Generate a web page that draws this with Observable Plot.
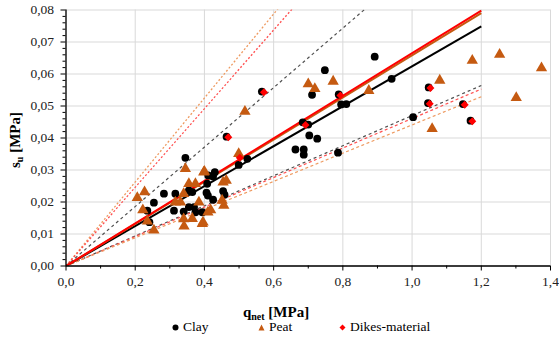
<!DOCTYPE html>
<html>
<head>
<meta charset="utf-8">
<script src="https://cdn.jsdelivr.net/npm/d3@7"></script>
<script src="https://cdn.jsdelivr.net/npm/@observablehq/plot@0.6"></script>
<style>
  html, body { margin: 0; padding: 0; background: #fff; }
  #wrap { position: relative; width: 559px; height: 344px; font-family: "Liberation Serif", "Times New Roman", Times, "DejaVu Serif", serif; color: #000; }
  #chart { position: absolute; left: 0; top: 0; }
  .ylab { position: absolute; left: 15px; top: 140px; transform: translate(-50%, -50%) rotate(-90deg); white-space: nowrap; font-weight: bold; font-size: 15px; }
  .xlab { position: absolute; left: 276px; top: 312px; transform: translate(-50%, -50%); white-space: nowrap; font-weight: bold; font-size: 15px; }
  sub { font-size: 10px; vertical-align: -3px; line-height: 0; }
  .leg { position: absolute; top: 327px; transform: translateY(-50%); white-space: nowrap; font-size: 13.5px; display: flex; align-items: center; }
  .leg svg { margin-right: 4px; }
  #chart svg text { font-family: "Liberation Serif", "Times New Roman", Times, "DejaVu Serif", serif; }
</style>
</head>
<body>
<div id="wrap">
  <div id="chart"></div>
  <div class="ylab">s<sub>u</sub> [MPa]</div>
  <div class="xlab">q<sub>net</sub> [MPa]</div>
  <div class="leg" style="left:172px"><svg width="7" height="7"><circle cx="3.5" cy="3.5" r="3" fill="#000"/></svg>Clay</div>
  <div class="leg" style="left:258px"><svg width="7" height="7"><path d="M3.5,0.5L6.5,6.5L0.5,6.5Z" fill="#c55a11"/></svg>Peat</div>
  <div class="leg" style="left:339px"><svg width="7" height="7"><path d="M3.5,0.5L6.5,3.5L3.5,6.5L0.5,3.5Z" fill="#ff0000"/></svg>Dikes-material</div>
</div>
<script>
// ---- Data ----
const clayX = [0.345,0.892,0.748,0.711,0.795,0.810,0.700,0.703,0.726,0.663,0.687,0.687,0.786,0.524,0.499,0.941,1.003,
  0.411,0.430,0.425,0.283,0.316,0.254,0.355,0.365,0.312,0.340,0.235,0.241,0.355,0.370,0.374,0.394,0.408,0.406,0.410,0.425,0.454,0.458,
  0.566,0.464,0.684,0.788,1.048,1.046,1.147,1.169];
const clayY = [0.0338,0.0654,0.0612,0.0535,0.0505,0.0506,0.0442,0.0408,0.0398,0.0364,0.0364,0.0348,0.0354,0.0335,0.0316,0.0585,0.0465,
  0.0283,0.0293,0.0280,0.0226,0.0226,0.0198,0.0236,0.0231,0.0173,0.0170,0.0173,0.0137,0.0184,0.0184,0.0168,0.0168,0.0257,0.0229,0.0220,0.0207,0.0234,0.0223,
  0.0545,0.0404,0.0449,0.0536,0.0558,0.0509,0.0506,0.0454];

const peatX = [0.345,0.400,0.227,0.206,0.355,0.374,0.340,0.331,0.316,0.222,0.235,0.254,0.340,0.341,0.365,0.384,0.394,0.398,0.454,0.463,0.451,0.456,0.418,0.410,0.396,0.499,
  0.517,0.700,0.719,0.772,0.875,1.080,1.058,1.174,1.253,1.374,1.301];
const peatY = [0.0304,0.0295,0.0231,0.0213,0.0257,0.0257,0.0226,0.0199,0.0199,0.0175,0.0140,0.0112,0.0147,0.0124,0.0148,0.0199,0.0132,0.0293,0.0262,0.0267,0.0205,0.0189,0.0175,0.0168,0.0137,0.0351,
  0.0483,0.0569,0.0554,0.0577,0.0548,0.0580,0.0429,0.0642,0.0661,0.0619,0.0526];

const dikesX = [0.572,0.469,0.692,0.793,1.053,1.051,1.152,1.174,0.502];
const dikesY = [0.0543,0.0402,0.0441,0.0533,0.0556,0.0507,0.0504,0.0452,0.0338];

// Correlation lines from the origin to q_net = 1.2
const fitNames = ["Clay mean","Peat mean","Dikes mean","Clay upper","Peat upper","Dikes upper","Clay lower","Dikes lower","Peat lower"];
const fitEndX = [1.2,1.2,1.2,1.2,1.2,1.2,1.2,1.2,1.2];
const fitEndY = [0.0749,0.0790,0.0798,0.1115,0.1575,0.1475,0.0564,0.0553,0.0529];

const xTicks = [0,0.2,0.4,0.6,0.8,1.0,1.2,1.4];
const yTicks = [0,0.01,0.02,0.03,0.04,0.05,0.06,0.07,0.08];

// ---- Styles ----
const fitColor = ["#000000","#c55a11","#ff0000","#505050","#ee9a60","#ff5050","#505050","#ff5050","#ee9a60"];
const fitWidth = [2,2,2,1.2,1.3,1.3,1.2,1.2,1.2];
const fitDash = ["none","none","none","3,3","2,2","2,2","3,3","3,2.5","3,2.5"];

const xMinor = xTicks.slice(0,-1).map(v => v + 0.1);
const yMinor = d3.range(0, 0.0801, 0.002).filter(v => Math.abs(v*100 - Math.round(v*100)) > 1e-6);

const clay = clayX.map((x,i) => ({x, y: clayY[i]}));
const peat = peatX.map((x,i) => ({x, y: peatY[i]}));
const dikes = dikesX.map((x,i) => ({x, y: dikesY[i]}));

const fitMarks = fitNames.map((name,i) => Plot.line([{x:0,y:0},{x:fitEndX[i],y:fitEndY[i]}], {
  x:"x", y:"y", stroke: fitColor[i], strokeWidth: fitWidth[i], strokeDasharray: fitDash[i], strokeLinecap: "butt", clip: true
}));
// draw order: dashed first, then solid black, orange, red
const order = [3,4,5,6,7,8,0,1,2];

const fmtX = d => d.toFixed(1).replace(".", ",");
const fmtY = d => d.toFixed(2).replace(".", ",");

const plot = Plot.plot({
  width: 559,
  height: 300,
  marginLeft: 65.5,
  marginRight: 9,
  marginTop: 9.5,
  marginBottom: 34.5,
  style: {fontFamily: "'Liberation Serif', 'Times New Roman', Times, 'DejaVu Serif', serif", fontSize: "13.5px", color: "#000", background: "transparent"},
  x: {domain: [0, 1.4]},
  y: {domain: [0, 0.08]},
  marks: [
    Plot.gridX(xTicks, {stroke: "#d9d9d9", strokeOpacity: 1, strokeWidth: 1}),
    Plot.gridY(yTicks, {stroke: "#d9d9d9", strokeOpacity: 1, strokeWidth: 1}),
    ...order.map(i => fitMarks[i]),
    Plot.dot(clay, {x:"x", y:"y", r: 3.9, fill: "#000", symbol: "circle"}),
    Plot.dot(peat, {x:"x", y:"y", r: 4.2, fill: "#c55a11", symbol: "triangle"}),
    Plot.dot(dikes, {x:"x", y:"y", r: 3.6, fill: "#ff0000", symbol: "diamond2"}),
    Plot.axisY(yTicks, {tickSize: 5, tickPadding: 7, tickFormat: fmtY, label: null, stroke: "#000", fill: "#222"}),
    Plot.axisY(yMinor, {tickSize: 3, tickFormat: () => "", label: null, stroke: "#000"}),
    Plot.axisX(xTicks, {tickSize: 5, tickPadding: 5, tickFormat: fmtX, label: null, stroke: "#000", fill: "#222"}),
    Plot.axisX(xMinor, {tickSize: 3, tickFormat: () => "", label: null, stroke: "#000"}),
    Plot.ruleX([0], {stroke: "#000", strokeWidth: 1.3}),
    Plot.ruleY([0], {stroke: "#000", strokeWidth: 1.3})
  ]
});
document.getElementById("chart").appendChild(plot);
</script>
</body>
</html>
